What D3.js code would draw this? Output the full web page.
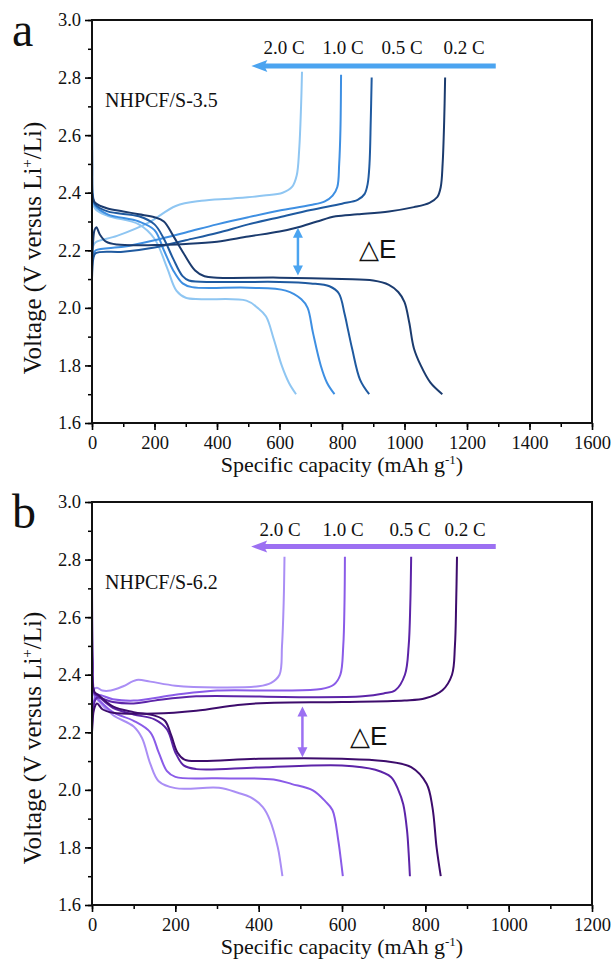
<!DOCTYPE html>
<html>
<head>
<meta charset="utf-8">
<script src="https://cdn.jsdelivr.net/npm/d3@7"></script>
<style>
  body { margin: 0; background: #fff; }
  svg { display: block; }
  text { font-family: "Liberation Serif", "Times New Roman", serif; fill: #111; }
</style>
</head>
<body>
<svg id="chart" width="616" height="972"></svg>
<script>
// rates, in the order of the curves below
const rates = ["0.2 C", "0.5 C", "1.0 C", "2.0 C"];

const yTicks = [1.6, 1.8, 2.0, 2.2, 2.4, 2.6, 2.8, 3.0];
const xTicksA = [0, 200, 400, 600, 800, 1000, 1200, 1400, 1600];
const xTicksB = [0, 200, 400, 600, 800, 1000, 1200];

// panel a, NHPCF/S-3.5  -- [capacity mAh/g, voltage V]
const a02Dis = [[0,2.40],[3,2.38],[10,2.365],[50,2.345],[100,2.335],[150,2.325],[200,2.315],[230,2.30],[260,2.25],[293,2.19],[330,2.13],[360,2.11],[400,2.105],[600,2.105],[800,2.10],[900,2.095],[950,2.08],[980,2.055],[1000,2.02],[1015,1.95],[1030,1.86],[1052,1.80],[1083,1.74],[1121,1.70]];
const a02Cha = [[0,2.10],[3,2.22],[8,2.27],[14,2.28],[25,2.255],[45,2.23],[80,2.22],[200,2.218],[300,2.222],[400,2.23],[500,2.248],[600,2.265],[660,2.28],[720,2.30],[780,2.318],[850,2.325],[950,2.335],[1030,2.35],[1080,2.365],[1105,2.385],[1116,2.42],[1122,2.5],[1127,2.65],[1130,2.80]];
const a05Dis = [[0,2.72],[1,2.5],[3,2.39],[10,2.36],[50,2.335],[150,2.318],[200,2.29],[230,2.24],[260,2.17],[290,2.11],[310,2.095],[400,2.09],[600,2.09],[700,2.085],[760,2.075],[790,2.05],[808,1.98],[820,1.92],[833,1.855],[858,1.75],[887,1.70]];
const a05Cha = [[0,2.10],[4,2.17],[12,2.19],[100,2.195],[200,2.21],[300,2.235],[400,2.26],[500,2.29],[600,2.315],[700,2.34],[800,2.362],[850,2.375],[872,2.395],[882,2.43],[888,2.5],[892,2.65],[895,2.80]];
const a10Dis = [[0,2.40],[10,2.355],[50,2.325],[150,2.30],[200,2.27],[230,2.20],[260,2.13],[290,2.085],[320,2.072],[500,2.07],[620,2.06],[670,2.03],[690,2.0],[707,1.914],[732,1.80],[752,1.74],[776,1.70]];
const a10Cha = [[0,2.12],[4,2.185],[12,2.20],[100,2.212],[200,2.235],[300,2.262],[400,2.29],[500,2.315],[600,2.338],[700,2.357],[745,2.37],[770,2.39],[785,2.42],[791,2.5],[795,2.62],[797,2.81]];
const a20Dis = [[0,2.40],[10,2.345],[50,2.32],[150,2.29],[200,2.24],[240,2.14],[270,2.06],[300,2.035],[350,2.03],[494,2.025],[530,2.0],[557,1.97],[582,1.89],[607,1.80],[630,1.74],[653,1.70]];
const a20Cha = [[0,2.15],[4,2.215],[12,2.228],[80,2.25],[181,2.296],[268,2.354],[350,2.372],[450,2.38],[550,2.39],[610,2.40],[640,2.42],[655,2.46],[663,2.55],[669,2.7],[672,2.82]];

// panel b, NHPCF/S-6.2
const b02Dis = [[0,2.40],[6,2.34],[15,2.33],[50,2.29],[100,2.27],[150,2.258],[175,2.24],[190,2.19],[205,2.13],[222,2.105],[260,2.10],[400,2.108],[600,2.108],[700,2.10],[766,2.079],[803,2.021],[817,1.94],[827,1.80],[837,1.70]];
const b02Cha = [[0,2.20],[5,2.28],[12,2.30],[25,2.28],[50,2.268],[150,2.265],[250,2.275],[350,2.295],[420,2.302],[600,2.305],[750,2.31],[800,2.318],[841,2.346],[864,2.40],[871,2.5],[874,2.65],[876,2.81]];
const b05Dis = [[0,2.72],[2,2.45],[6,2.335],[15,2.325],[50,2.285],[100,2.262],[150,2.245],[180,2.21],[200,2.13],[220,2.085],[250,2.072],[400,2.078],[600,2.085],[680,2.07],[718,2.044],[735,2.0],[747,1.95],[756,1.86],[760,1.78],[763,1.70]];
const b05Cha = [[0,2.20],[5,2.30],[12,2.32],[50,2.305],[100,2.30],[150,2.31],[250,2.325],[500,2.322],[650,2.325],[700,2.335],[728,2.346],[751,2.40],[760,2.5],[764,2.65],[766,2.81]];
const b10Dis = [[0,2.40],[6,2.33],[15,2.315],[50,2.27],[100,2.24],[140,2.20],[160,2.13],[180,2.065],[200,2.045],[300,2.04],[436,2.036],[480,2.02],[530,1.998],[560,1.96],[577,1.93],[591,1.825],[597,1.76],[602,1.70]];
const b10Cha = [[0,2.22],[5,2.31],[12,2.33],[50,2.315],[100,2.31],[200,2.33],[300,2.345],[450,2.345],[550,2.35],[580,2.365],[596,2.40],[603,2.5],[606,2.65],[607,2.81]];
const b20Dis = [[0,2.40],[6,2.33],[15,2.31],[50,2.26],[100,2.22],[120,2.18],[140,2.09],[160,2.03],[200,2.006],[305,2.007],[350,1.99],[380,1.975],[410,1.94],[427,1.895],[446,1.80],[452,1.75],[457,1.70]];
const b20Cha = [[0,2.25],[5,2.35],[12,2.355],[25,2.345],[45,2.345],[75,2.36],[107,2.382],[140,2.376],[200,2.362],[300,2.356],[400,2.36],[430,2.372],[450,2.40],[456,2.5],[460,2.65],[462,2.81]];

// delta E marker: [capacity, V low, V high]
const deltaA = [659, 2.112, 2.278];
const deltaB = [505, 2.113, 2.29];

const colorsA = ["#1b3b6e", "#1f5aa0", "#3e8fe2", "#8fc6f2"];
const colorsB = ["#3d0c6c", "#5c24a8", "#8a5be8", "#aa8ef5"];

const svg = d3.select("#chart");

function drawPanel(p) {
    const x = d3.scaleLinear().domain(p.xDomain).range([92, 592]);
    const y = d3.scaleLinear().domain([1.6, 3.0]).range([p.bottom, p.top]);
    const g = svg.append("g");

    // minor ticks first, then axes
    const xMinor = d3.range(p.xDomain[0], p.xDomain[1] + 1, 100);
    const yMinor = d3.range(16, 31).map(d => d / 10);

    g.append("g")
        .attr("transform", `translate(0,${p.bottom})`)
        .call(d3.axisBottom(x).tickValues(xMinor).tickSize(4).tickFormat(""))
        .call(a => a.select(".domain").remove())
        .selectAll("line").attr("stroke-width", 1.5);
    g.append("g")
        .attr("transform", "translate(92,0)")
        .call(d3.axisLeft(y).tickValues(yMinor).tickSize(4).tickFormat(""))
        .call(a => a.select(".domain").remove())
        .selectAll("line").attr("stroke-width", 1.5);

    const xAxis = g.append("g")
        .attr("transform", `translate(0,${p.bottom})`)
        .call(d3.axisBottom(x).tickValues(p.xTicks).tickSize(7).tickPadding(6).tickFormat(d3.format("d")));
    xAxis.select(".domain").remove();
    xAxis.selectAll("line").attr("stroke-width", 1.6);
    xAxis.selectAll("text").attr("font-size", 18.5).style("font-family", "Liberation Serif").attr("fill", "#111");

    const yAxis = g.append("g")
        .attr("transform", "translate(92,0)")
        .call(d3.axisLeft(y).tickValues(yTicks).tickSize(7).tickPadding(4).tickFormat(d3.format(".1f")));
    yAxis.select(".domain").remove();
    yAxis.selectAll("line").attr("stroke-width", 1.6);
    yAxis.selectAll("text").attr("font-size", 18.5).style("font-family", "Liberation Serif").attr("fill", "#111");

    // curves
    const line = d3.line()
        .x(d => x(d[0]))
        .y(d => y(d[1]))
        .curve(d3.curveCatmullRom.alpha(0.5));

    const clip = "clip" + p.id;
    g.append("clipPath").attr("id", clip)
        .append("rect").attr("x", 92).attr("y", p.top).attr("width", 500).attr("height", p.bottom - p.top);

    const curves = g.append("g").attr("clip-path", `url(#${clip})`);
    // lightest drawn first so the dark ones sit on top
    for (let i = p.curves.length - 1; i >= 0; i--) {
        p.curves[i].forEach(c => {
            curves.append("path")
                .datum(c)
                .attr("d", line)
                .attr("fill", "none")
                .attr("stroke", p.colors[i])
                .attr("stroke-width", 2);
        });
    }

    // frame
    g.append("rect")
        .attr("x", 92).attr("y", p.top)
        .attr("width", 500).attr("height", p.bottom - p.top)
        .attr("fill", "none").attr("stroke", "#111").attr("stroke-width", 2);

    // rate arrow
    const ay = y(p.arrowV);
    g.append("line")
        .attr("x1", x(p.arrowX[1])).attr("x2", x(p.arrowX[0]) + 12)
        .attr("y1", ay).attr("y2", ay)
        .attr("stroke", p.arrowColor).attr("stroke-width", 5);
    g.append("path")
        .attr("d", `M${x(p.arrowX[0])},${ay} l16,-6 l-3,6 l3,6 z`)
        .attr("fill", p.arrowColor);

    rates.forEach((r, i) => {
        g.append("text")
            .attr("x", p.labelX[i]).attr("y", p.top + 34)
            .attr("text-anchor", "middle")
            .attr("font-size", 19)
            .text(r);
    });

    // delta E double arrow
    const dx = x(p.delta[0]), y1 = y(p.delta[2]), y2 = y(p.delta[1]);
    g.append("line")
        .attr("x1", dx).attr("x2", dx).attr("y1", y1 + 6).attr("y2", y2 - 6)
        .attr("stroke", p.arrowColor).attr("stroke-width", 2.5);
    g.append("path").attr("d", `M${dx},${y1} l-5,10 l10,0 z`).attr("fill", p.arrowColor);
    g.append("path").attr("d", `M${dx},${y2} l-5,-10 l10,0 z`).attr("fill", p.arrowColor);

    g.append("text")
        .attr("x", p.deltaLabel[0]).attr("y", p.deltaLabel[1])
        .style("font-family", "'Liberation Sans', Arial, sans-serif")
        .attr("font-size", 26)
        .text("△E");

    g.append("text")
        .attr("x", 105).attr("y", p.top + 87)
        .attr("font-size", 20)
        .text(p.sample);

    g.append("text")
        .attr("x", 12).attr("y", p.top + 26)
        .attr("font-size", 48)
        .text(p.letter);

    // axis titles
    const xt = g.append("text")
        .attr("x", 342).attr("y", p.bottom + 49)
        .attr("text-anchor", "middle")
        .attr("font-size", 22);
    xt.append("tspan").text("Specific capacity (mAh g");
    xt.append("tspan").attr("font-size", 13).attr("dy", -8).text("-1");
    xt.append("tspan").attr("dy", 8).text(")");

    const yt = g.append("text")
        .attr("transform", `translate(41,${p.yTitle}) rotate(-90)`)
        .attr("text-anchor", "middle")
        .attr("font-size", 25);
    yt.append("tspan").text("Voltage (V versus Li");
    yt.append("tspan").attr("font-size", 15).attr("dy", -9).text("+");
    yt.append("tspan").attr("dy", 9).text("/Li)");
}

drawPanel({
    id: "a", letter: "a", sample: "NHPCF/S-3.5",
    top: 20, bottom: 423, xDomain: [0, 1600], xTicks: xTicksA,
    curves: [[a02Dis, a02Cha], [a05Dis, a05Cha], [a10Dis, a10Cha], [a20Dis, a20Cha]],
    colors: colorsA, arrowColor: "#4ba4f0",
    arrowX: [510, 1292], arrowV: 2.84,
    labelX: [464, 402, 343, 284],
    delta: deltaA, deltaLabel: [359, 258], yTitle: 248
});

drawPanel({
    id: "b", letter: "b", sample: "NHPCF/S-6.2",
    top: 502, bottom: 905, xDomain: [0, 1200], xTicks: xTicksB,
    curves: [[b02Dis, b02Cha], [b05Dis, b05Cha], [b10Dis, b10Cha], [b20Dis, b20Cha]],
    colors: colorsB, arrowColor: "#9c70f2",
    arrowX: [382, 969], arrowV: 2.845,
    labelX: [465, 410, 343, 280],
    delta: deltaB, deltaLabel: [350, 745], yTitle: 738
});
</script>
</body>
</html>
